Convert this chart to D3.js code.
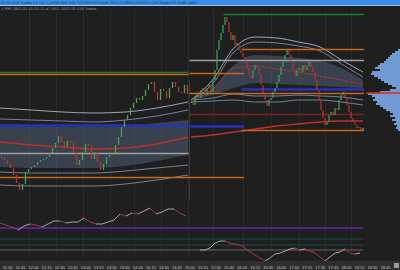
<!DOCTYPE html>
<html>
<head>
<meta charset="utf-8">
<script src="https://cdn.jsdelivr.net/npm/d3@7"></script>
<style>
  body { margin: 0; background: #1f1f1f; overflow: hidden; }
  svg { display: block; font-family: "DejaVu Sans", sans-serif; }
</style>
</head>
<body>
<div id="graph"></div>
<script>

// closes of the two sessions (price points)
var leftCloses = [1123,1120,1116,1112,1105,1097,1090,1096,1108,1111,1113,1115,1118,1120,1121,1123,
  1127,1132,1137,1144,1138,1133,1139,1137,1127,1115,1120,1128,1136,1134,1121,1128,1118,1110,1116,
  1123,1125,1127,1135,1143,1153,1160,1165,1172,1177,1182,1180,1184,1190,1196,1198,1188,1180,1191,
  1189,1182,1192,1198,1193,1188,1187,1195,1186];
var rightCloses = [1178,1175,1183,1185,1182,1190,1192,1185,1192,1195,1188,1200,1210,1230,1240,1247,
  1255,1263,1258,1248,1240,1245,1235,1237,1230,1227,1223,1218,1212,1205,1202,1210,1215,1212,1205,
  1195,1187,1180,1174,1180,1182,1188,1192,1198,1205,1213,1218,1225,1230,1225,1218,1210,1204,1210,
  1212,1208,1215,1210,1214,1218,1213,1208,1200,1190,1180,1170,1162,1155,1158,1165,1168,1165,1172,
  1170,1180,1185,1188,1183,1175,1168,1162,1158,1155,1152,1153,1150,1152];

// envelope bands, left session
var leftUpperOuter = [1172,1170,1168,1167,1168,1172,1178];
var leftUpperInner = [1161,1160,1159,1158,1160,1164,1170];
var leftShadeTop   = [1155,1154,1153,1153,1154,1157,1160];
var leftShadeBot   = [1113,1112,1112,1112,1114,1119,1125];
var leftLowerInner = [1108,1107,1107,1107,1109,1112,1115];
var leftLowerOuter = [1095,1094,1094,1094,1096,1100,1105];
var leftSlowMA     = [1138,1135,1133,1131,1132,1136,1143];

// envelope bands, right session
var rightUpperOuter = [1180,1200,1232,1243,1242,1238,1233,1220,1208];
var rightUpperMid   = [1180,1196,1228,1238,1237,1234,1229,1216,1203];
var rightShadeTop   = [1180,1192,1215,1225,1224,1222,1219,1212,1200];
var rightShadeBot   = [1180,1185,1192,1197,1196,1195,1194,1193,1192];
var rightMidMA      = [1180,1190,1212,1214,1211,1208,1204,1200,1196];
var rightLowerInner = [1180,1182,1186,1184,1184,1185,1184,1183,1180];
var rightLowerOuter = [1178,1179,1180,1178,1178,1180,1180,1178,1175];
var rightSlowMA     = [1143,1145,1148,1151,1154,1156,1158,1159,1159];

// horizontal levels (price, first bar, last bar, kind)
var levelPrices = [1266,1208,1206,1207,1231,1220,1191,1187,1166,1154,1155,1150,1127,1103];
var levelFrom   = [80,   0,   0,   63,  89,  63,  89,  63,  63,  63,  0,   89,  0,   0];
var levelTo     = [149,  62,  62,  89,  149, 149, 149, 149, 149, 89,  62,  149, 62,  89];
var levelKinds  = ["high","high","pivot","pivot","pivot","mid","value","pivot","low","value","value","pivot","mid","pivot"];

// volume profile
var profilePrices = [1230,1228,1226,1224,1222,1220,1218,1216,1214,1212,1210,1208,1206,1204,1202,1200,
  1198,1196,1194,1192,1190,1188,1186,1184,1182,1180,1178,1176,1174,1172,1170,1168,1166,1164,1162,
  1160,1158,1156,1154,1152,1150];
var profileVolumes = [2,5,8,10,12,14,16,20,22,25,20,28,29,26,22,19,16,12,8,4,10,20,32,28,25,27,23,
  24,20,17,14,10,7,10,5,8,4,6,3,4,2];
var pocPrice = 1187;

// oscillators
var leftOsc = [54,50,46,40,48,52,50,46,52,58,58,54,56,56,64,56,52,52,56,60,72,68,74,72,78,84,72,76,82,82,74,68];
var rightOsc = [50,50,57,75,82,82,75,71,68,57,43,32,21,11,21,36,39,46,54,57,50,54,46,39,25,11,25,39,43,54,39,36,39];
var oscLevels = [44, 22, 10];
var oscLevelKinds = ["purple", "teal", "teal"];

var timeLabels = ["11:30","11:45","12:00","12:15","12:30","12:45","13:00","13:15","13:30","13:45",
  "14:00","14:15","14:30","14:45","15:00","15:15","15:30","15:45","16:00","16:15","16:30","16:45",
  "17:00","17:15","17:30","17:45","18:00","18:15","18:30","18:45"];
var gridBars = [9,18,27,36,44,53,62,74,89,103,117,130,143];

var width = 400, height = 270;

var svg = d3.select("#graph")
  .append("svg")
    .attr("width", width)
    .attr("height", height);

svg.append("rect").attr("width", width).attr("height", height).attr("fill", "#1f1f1f");

// scales
var y = d3.scaleLinear().domain([1080, 1270]).range([200, 10]);
var xL = d3.scaleLinear().domain([0, leftCloses.length - 1]).range([1.5, 187.5]);
var xR = d3.scaleLinear().domain([leftCloses.length, leftCloses.length + rightCloses.length - 1]).range([191, 363]);
function xBar(b) { return b < leftCloses.length ? xL(b) : xR(b); }

var levelColor = d3.scaleOrdinal()
  .domain(["high","pivot","mid","value","low"])
  .range(["#1e7a2e","#c8661c","#a0a0a0","#2434b8","#7a2020"]);

// vertical grid
svg.append("g").selectAll("line")
  .data(gridBars)
  .enter().append("line")
    .attr("x1", function(d){ return Math.round(xBar(d)) + 0.5; })
    .attr("x2", function(d){ return Math.round(xBar(d)) + 0.5; })
    .attr("y1", 10).attr("y2", 257)
    .attr("stroke", "#2b2b2b").attr("stroke-width", 1);

// session separator
svg.append("line").attr("x1", 189.5).attr("x2", 189.5).attr("y1", 80).attr("y2", 200)
  .attr("stroke", "#383838");

// bands
function drawBands(x0, x1, outerU, innerU, top, bot, innerL, outerL, slow, mid) {
  var xs = d3.scaleLinear().domain([0, top.length - 1]).range([x0, x1]);
  var area = d3.area()
    .x(function(d, i){ return xs(i); })
    .y0(function(d, i){ return y(bot[i]); })
    .y1(function(d){ return y(d); })
    .curve(d3.curveMonotoneX);
  svg.append("path").datum(top).attr("d", area).attr("fill", "#66789a").attr("opacity", 0.38);

  var line = d3.line()
    .x(function(d, i){ return xs(i); })
    .y(function(d){ return y(d); })
    .curve(d3.curveMonotoneX);
  [outerU, innerU, innerL, outerL].forEach(function(arr, k){
    svg.append("path").datum(arr).attr("d", line)
      .attr("fill", "none")
      .attr("stroke", k == 0 ? "#aab4c8" : "#7d8dab")
      .attr("stroke-width", 0.9);
  });
  if (mid) {
    svg.append("path").datum(mid).attr("d", line)
      .attr("fill", "none").attr("stroke", "#8a3a3a").attr("stroke-width", 1);
  }
  svg.append("path").datum(slow).attr("d", line)
    .attr("fill", "none").attr("stroke", "#c0302a").attr("stroke-width", 1.4);
}

drawBands(0, 188, leftUpperOuter, leftUpperInner, leftShadeTop, leftShadeBot,
  leftLowerInner, leftLowerOuter, leftSlowMA, null);
drawBands(191, 363, rightUpperOuter, rightUpperMid, rightShadeTop, rightShadeBot,
  rightLowerInner, rightLowerOuter, rightSlowMA, rightMidMA);

// horizontal levels
svg.append("g").selectAll("line")
  .data(levelPrices)
  .enter().append("line")
    .attr("x1", function(d, i){ return xBar(levelFrom[i]) - 1.5; })
    .attr("x2", function(d, i){ return xBar(levelTo[i]) + 1; })
    .attr("y1", function(d){ return Math.round(y(d)) + 0.5; })
    .attr("y2", function(d){ return Math.round(y(d)) + 0.5; })
    .attr("stroke", function(d, i){ return levelColor(levelKinds[i]); })
    .attr("stroke-width", function(d, i){ return levelKinds[i] == "value" ? 2.5 : 1.3; });

// candles
function drawCandles(data, offset, bw) {
  svg.append("g").selectAll("rect")
    .data(data)
    .enter().append("rect")
      .attr("x", function(d, i){ return xBar(i + offset) - bw / 2; })
      .attr("width", bw)
      .attr("y", function(d, i){
        var o = i == 0 ? d : data[i - 1];
        return y(Math.max(o, d));
      })
      .attr("height", function(d, i){
        var o = i == 0 ? d : data[i - 1];
        return Math.max(1, Math.abs(y(o) - y(d)));
      })
      .attr("fill", function(d, i){
        var o = i == 0 ? d : data[i - 1];
        return d >= o ? "#42a650" : "#b8382f";
      });
}
drawCandles(leftCloses, 0, 1.3);
drawCandles(rightCloses, leftCloses.length, 1.2);

// volume profile
var vw = d3.scaleLinear().domain([0, d3.max(profileVolumes)]).range([0, 32]);
svg.append("g").selectAll("rect")
  .data(profilePrices)
  .enter().append("rect")
    .attr("x", function(d, i){ return 400 - vw(profileVolumes[i]); })
    .attr("y", function(d){ return y(d) - 1; })
    .attr("width", function(d, i){ return vw(profileVolumes[i]); })
    .attr("height", 2)
    .attr("fill", "#6f9bd2");
svg.append("line")
  .attr("x1", 366).attr("x2", 400)
  .attr("y1", y(pocPrice)).attr("y2", y(pocPrice))
  .attr("stroke", "#e02424").attr("stroke-width", 1.6);

// oscillator panels
var oL = d3.scaleLinear().domain([0, 100]).range([250, 200]);
var oR = d3.scaleLinear().domain([0, 100]).range([264, 236]);

svg.append("g").selectAll("line")
  .data(oscLevels)
  .enter().append("line")
    .attr("x1", 0).attr("x2", 363)
    .attr("y1", function(d){ return oL(d); })
    .attr("y2", function(d){ return oL(d); })
    .attr("stroke", function(d, i){ return oscLevelKinds[i] == "purple" ? "#55228a" : "#1d4a52"; })
    .attr("stroke-width", function(d, i){ return oscLevelKinds[i] == "purple" ? 2.2 : 1; });

svg.append("line").attr("x1", 0).attr("x2", 363)
  .attr("y1", oR(50)).attr("y2", oR(50))
  .attr("stroke", "#6e6262").attr("stroke-width", 1);

function drawOsc(data, scale, x0, x1) {
  var xs = d3.scaleLinear().domain([0, data.length - 1]).range([x0, x1]);
  svg.append("g").selectAll("line")
    .data(data.slice(1))
    .enter().append("line")
      .attr("x1", function(d, i){ return xs(i); })
      .attr("x2", function(d, i){ return xs(i + 1); })
      .attr("y1", function(d, i){ return scale(data[i]); })
      .attr("y2", function(d){ return scale(d); })
      .attr("stroke", function(d, i){ return d < data[i] ? "#a8443d" : "#b4b4b4"; })
      .attr("stroke-width", 0.9);
}
drawOsc(leftOsc, oL, 0, 186);
drawOsc(rightOsc, oR, 200, 360);

// header bars
svg.append("rect").attr("width", width).attr("height", 5).attr("fill", "#3b8de6");
svg.append("rect").attr("y", 5).attr("width", width).attr("height", 1).attr("fill", "#9cc3ee");
svg.append("text").attr("x", 1).attr("y", 4)
  .attr("font-size", 3.6).attr("fill", "#123a7a")
  .text("01.95  $18 Trades  F5 L51 1.0598  S&P 500 FUTURES ES MAR 2015 CLOSED (ESH15)  $18 Trades  F5 M481 4491");
svg.append("text").attr("x", 1).attr("y", 9.5)
  .attr("font-size", 3.6).attr("fill", "#9a9a9a")
  .text("1 999  1802.01.05  01:11:47  (M1)  1007.53  $18 Trades");

// time axis
svg.append("rect").attr("y", 261).attr("width", width).attr("height", 9).attr("fill", "#2e2e2e");
var xt = d3.scalePoint().domain(timeLabels).range([7, 385]);
svg.append("g")
  .attr("transform", "translate(0,261)")
  .call(d3.axisBottom(xt).tickSize(0).tickPadding(5))
  .call(function(g){ g.select(".domain").remove(); })
  .selectAll("text")
    .attr("font-size", 4)
    .attr("fill", "#c4c4c4");
svg.append("rect").attr("x", 394).attr("y", 263).attr("width", 5).attr("height", 5).attr("fill", "#9a9a9a");

</script>
</body>
</html>
